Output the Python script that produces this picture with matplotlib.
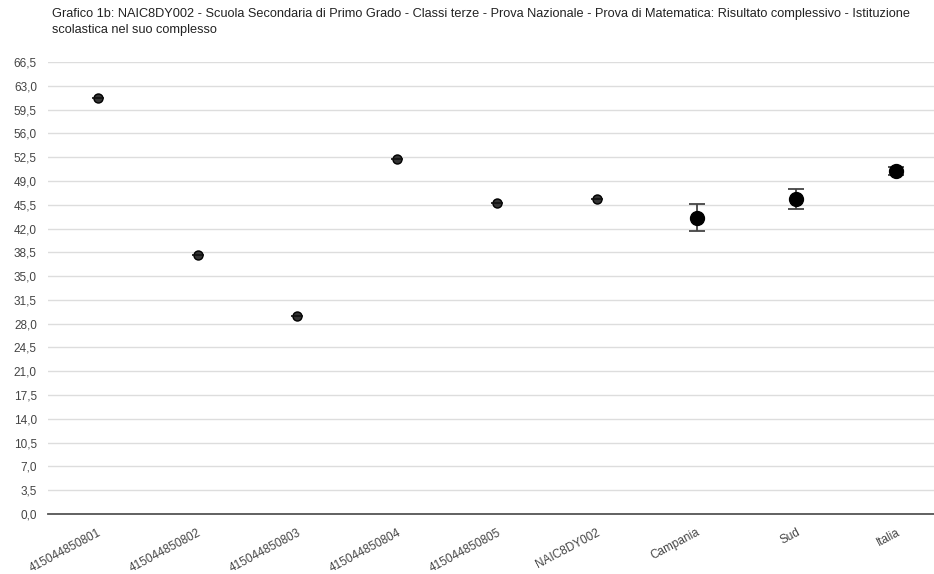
import matplotlib
matplotlib.use("Agg")
import matplotlib.pyplot as plt
import numpy as np

plt.rcParams['font.family'] = ['Liberation Sans', 'DejaVu Sans']

# data
categories = ['415044850801', '415044850802', '415044850803', '415044850804',
              '415044850805', 'NAIC8DY002', 'Campania', 'Sud', 'Italia']
scores = [61.2, 38.1, 29.1, 52.2, 45.8, 46.3, 43.6, 46.3, 50.5]
err_low = [0, 0, 0, 0, 0, 0, 2.0, 1.4, 0.6]
err_high = [0, 0, 0, 0, 0, 0, 2.0, 1.5, 0.6]
n_classes = 6  # the first six are the school and its classes

title = ("Grafico 1b: NAIC8DY002 - Scuola Secondaria di Primo Grado - Classi terze - Prova Nazionale - "
         "Prova di Matematica: Risultato complessivo - Istituzione\nscolastica nel suo complesso")

fig = plt.figure(figsize=(9.34, 5.74), dpi=100)
ax = fig.add_axes([48 / 934, 60 / 574, 1 - 48 / 934, 452 / 574])

x = np.arange(len(categories))

# reference groups: big dots with error bars
xs = x[n_classes:]
ys = np.array(scores[n_classes:])
yerr = [err_low[n_classes:], err_high[n_classes:]]
ax.errorbar(xs, ys, yerr=yerr, fmt='o', color='black', ecolor='#444444',
            elinewidth=1.3, capsize=6, capthick=1.3, markersize=10, zorder=3)

# school and classes: small dots
xc = x[:n_classes]
yc = scores[:n_classes]
ax.plot(xc, yc, 'o', color='#333333', markeredgecolor='black', markersize=6.5, zorder=3)
ax.plot(xc, yc, '_', color='#111111', markersize=9, markeredgewidth=1.2, zorder=4)

yticks = np.arange(0, 66.5 + 0.01, 3.5)
ax.set_yticks(yticks)
ax.set_yticklabels([f"{v:.1f}".replace('.', ',') for v in yticks])
ax.set_ylim(0, 66.5)
ax.set_xlim(-0.5, 8.38)

ax.set_xticks(x)
ax.set_xticklabels(categories, rotation=28, ha='right', rotation_mode='anchor')

ax.grid(axis='y', color='#dddddd', linewidth=1)
ax.set_axisbelow(True)
for side in ['top', 'right', 'left']:
    ax.spines[side].set_visible(False)
ax.spines['bottom'].set_color('#555555')
ax.spines['bottom'].set_linewidth(1.3)
ax.tick_params(axis='both', length=0, labelsize=8.5, colors='#444444')
ax.tick_params(axis='y', pad=8)
ax.tick_params(axis='x', pad=9)

fig.text(52 / 934, 1 - 8 / 574, title, ha='left', va='top', fontsize=9.15, color='#222222',
         linespacing=1.5)

fig.savefig('out.png', dpi=100)
